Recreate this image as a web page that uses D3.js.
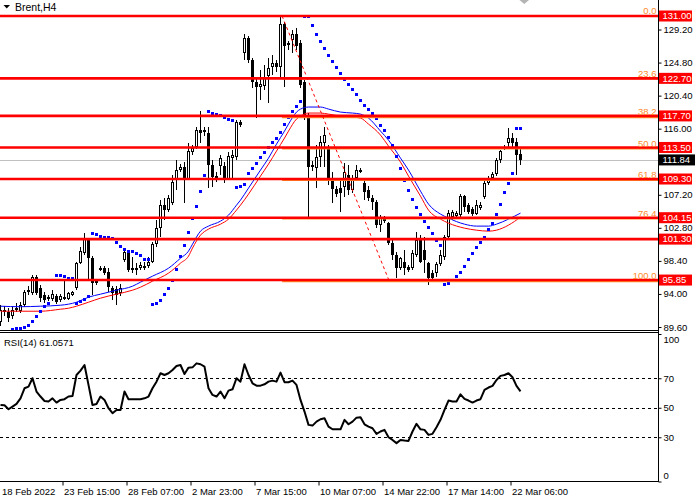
<!DOCTYPE html>
<html><head><meta charset="utf-8">
<script src="https://cdn.jsdelivr.net/npm/d3@7"></script>
<style>
html,body{margin:0;padding:0;background:#fff;}
svg{display:block;}
text{font-family:"Liberation Sans",Arial,sans-serif;}
</style></head><body>
<svg id="c" width="700" height="500"></svg>
<script>
// ---------- DATA ----------
const symbolTitle = "Brent,H4";
const barOpen = [90.24,91.84,91.57,91.04,91.97,91.70,92.50,94.24,94.10,96.23,
94.77,93.84,93.57,93.30,93.70,93.17,93.30,93.30,93.84,94.77,
98.10,99.43,101.16,98.76,95.43,97.17,97.43,96.90,94.77,94.64,
94.10,98.50,99.43,97.43,97.43,97.43,97.70,97.70,98.23,100.63,
102.76,105.82,105.16,106.09,109.15,110.49,110.89,109.29,112.88,113.55,
115.81,115.81,115.41,111.15,109.69,111.02,111.02,109.29,112.08,112.22,
116.88,126.07,128.07,125.14,122.21,121.54,121.67,123.01,124.21,124.74,
124.21,129.93,127.14,127.80,128.60,127.40,122.21,117.81,111.15,110.75,
112.22,114.08,113.42,109.02,107.96,108.09,108.22,109.82,107.82,109.42,
110.35,108.75,107.82,106.76,106.22,103.16,103.83,103.43,100.76,99.16,
97.43,98.23,97.57,97.43,99.16,101.16,99.83,98.10,96.77,96.77,
97.97,98.90,101.56,104.23,104.36,104.49,107.02,105.82,105.29,104.63,
105.42,106.89,108.75,109.42,109.95,111.82,113.42,114.08,114.75,114.22,
112.62];
const barHigh = [92.50,92.37,92.10,92.37,92.77,92.90,94.50,95.03,96.50,96.50,
95.17,94.24,93.84,94.50,93.97,93.97,95.83,94.24,94.37,98.23,
100.23,102.09,101.43,99.03,95.97,97.70,97.70,97.43,95.03,95.03,
95.30,99.83,99.70,98.90,98.10,98.23,98.23,98.90,100.90,103.83,
106.49,106.76,107.16,109.82,111.82,111.29,111.55,114.08,113.82,116.21,
118.34,116.21,116.21,111.82,110.22,112.48,111.55,112.88,113.15,117.15,
117.15,128.60,128.33,125.40,122.87,123.81,124.47,125.40,125.80,125.14,
131.00,130.20,127.67,129.13,129.40,127.80,122.47,118.08,111.68,113.82,
115.01,116.21,113.82,110.22,108.35,109.15,111.42,111.15,109.82,111.15,
110.75,109.42,108.35,107.16,106.49,104.49,104.36,103.56,101.16,99.56,
98.90,99.83,97.83,99.83,102.23,101.83,101.56,98.23,97.17,98.23,
99.83,101.83,105.16,105.16,105.03,107.29,107.16,106.09,105.56,106.49,
106.22,109.15,109.69,110.22,112.08,113.15,113.82,116.08,115.41,114.75,
113.28];
const barLow = [89.71,91.04,90.24,90.64,91.57,91.44,92.24,93.84,93.84,93.84,
92.90,92.77,93.04,93.04,92.64,92.90,93.17,93.17,93.70,94.50,
97.97,99.16,95.83,93.84,95.17,97.03,96.50,94.24,93.17,92.50,
93.70,98.23,96.90,96.77,96.50,97.17,97.17,97.43,98.10,100.23,
101.56,103.83,104.89,105.82,107.82,110.22,106.09,109.15,112.48,113.28,
114.08,115.01,108.09,108.22,108.89,109.82,108.75,109.15,109.42,111.82,
116.21,125.14,124.74,121.41,117.41,119.81,121.14,119.41,123.14,123.54,
122.87,121.54,126.47,126.07,126.47,121.41,117.15,104.23,110.35,108.09,
110.89,110.89,108.49,106.09,106.89,104.89,106.89,107.16,107.42,109.15,
110.09,106.49,106.36,105.16,102.76,102.23,103.43,100.50,98.50,96.10,
97.17,96.50,96.90,97.17,98.90,98.10,96.77,95.17,95.83,96.23,
97.70,98.50,101.16,103.83,104.09,104.23,104.89,104.63,104.36,104.49,
105.16,106.62,108.49,109.15,109.69,111.42,113.15,113.55,113.55,109.82,
111.15];
const barClose = [91.84,91.57,90.77,91.84,92.10,92.50,94.24,94.50,96.23,94.10,
93.44,93.17,93.30,93.97,92.90,93.70,93.57,94.10,94.24,98.10,
99.70,101.30,98.76,95.43,95.70,97.43,96.77,94.90,94.10,93.84,
94.77,99.56,97.17,97.17,97.17,97.83,97.43,98.23,100.63,102.76,
105.82,105.16,106.76,108.89,110.49,110.89,109.29,113.02,113.42,115.81,
115.41,115.55,111.15,109.55,109.29,112.08,109.29,112.35,112.48,116.88,
116.48,128.07,125.14,122.21,121.54,121.94,122.74,124.07,124.74,124.21,
129.93,127.00,127.40,128.60,127.00,121.81,117.55,110.89,110.89,112.22,
114.22,115.15,109.15,107.96,107.29,107.42,110.22,107.82,109.42,110.49,
110.49,107.56,106.76,106.22,103.16,104.09,103.96,100.76,99.16,97.43,
98.76,97.43,97.17,99.43,101.16,98.23,98.50,96.10,96.10,97.97,
99.16,101.56,104.76,104.89,104.76,107.02,105.56,104.89,104.63,105.82,
105.82,108.75,109.42,109.95,111.82,113.02,113.55,114.75,114.08,112.48,
111.84];
const sarValues = [null,null,null,89.31,89.35,89.44,89.57,89.84,90.37,91.04,
91.70,92.37,92.77,null,96.50,96.50,96.37,96.10,96.10,92.77,
93.04,93.30,93.70,102.09,101.96,101.70,101.56,101.56,101.43,100.90,
100.36,99.96,99.70,99.70,99.43,99.16,98.63,98.63,92.64,92.77,
93.17,93.97,94.77,95.83,97.30,99.03,100.50,102.23,104.09,105.69,
107.69,109.82,118.34,118.08,117.94,117.81,117.55,117.28,117.15,108.22,
108.35,108.62,110.09,110.75,111.42,112.22,112.88,113.55,114.22,114.75,
115.55,116.61,117.55,118.34,119.01,119.68,131.00,130.87,129.67,128.60,
127.67,126.74,125.80,125.00,124.21,123.41,122.61,121.94,121.27,120.61,
119.81,119.14,118.61,118.08,117.41,116.48,115.81,114.88,113.82,112.35,
110.75,109.15,107.82,106.62,105.56,104.63,103.69,102.89,102.09,101.16,
100.50,95.30,95.43,95.83,96.37,96.90,97.70,98.63,99.43,100.23,
100.90,101.56,102.63,103.43,104.63,105.96,107.56,108.75,110.09,116.08,
116.08];
const rsiValues = [51.9,51.7,49.0,50.8,52.6,56.4,63.2,64.3,70.0,61.0,
57.6,54.6,54.2,56.4,53.5,55.3,55.8,57.6,58.0,72.2,
75.2,79.0,65.5,51.9,52.6,57.6,55.3,49.7,46.3,48.5,
48.5,61.0,55.8,55.8,55.8,55.8,56.4,57.6,63.2,67.7,
73.4,72.2,73.4,75.6,78.3,79.0,72.9,77.2,77.4,80.1,
79.5,77.9,63.2,58.7,57.6,61.0,56.4,61.6,62.5,70.0,
67.7,79.5,72.2,66.6,65.0,65.0,65.9,67.7,68.4,67.7,
73.8,67.3,67.3,68.4,65.5,55.3,47.4,38.4,37.9,40.6,
42.2,42.9,37.2,35.4,35.4,35.4,41.8,38.8,40.6,43.3,
43.6,38.8,37.2,36.1,32.3,33.9,35.0,30.0,28.2,26.0,
28.2,27.8,27.5,33.9,39.1,35.4,35.0,31.6,32.3,36.8,
41.8,48.5,54.9,54.2,54.2,59.1,56.0,54.9,53.5,54.9,
55.8,62.1,63.7,64.8,68.8,71.6,72.2,73.4,70.7,64.8,
61.0571];
const maBars = [0,5,10,15,17,19,22,25,29,33,35,38,42,45,47,48,50,52,55,57,59,60,62,65,67,69,71,72,74,75,77,80,82,85,88,90,92,95,97,100,102,105,107,110,112,116,119,122,124,127,130];
const maBlue = [92.37,92.30,92.37,92.50,92.64,92.90,93.57,93.97,94.50,95.03,95.57,96.37,97.43,98.76,99.70,100.63,102.36,103.03,103.69,104.49,105.82,106.49,108.09,110.49,112.08,113.95,115.68,116.61,118.21,118.61,118.88,118.88,118.61,118.21,118.08,117.94,117.41,115.68,114.48,112.08,110.49,107.69,105.96,104.63,104.09,103.29,103.03,103.03,103.29,103.96,104.76];
const maRed = [91.70,91.70,91.70,91.97,92.10,92.37,92.90,93.44,93.97,94.50,94.90,95.70,96.77,98.10,99.03,100.10,101.83,102.63,103.29,103.96,105.16,105.82,107.29,109.69,111.29,113.02,114.75,115.68,117.28,117.68,118.08,118.08,117.94,117.68,117.55,117.41,116.61,115.15,113.68,111.55,109.69,107.02,105.16,103.96,103.43,102.76,102.49,102.36,102.49,103.16,104.23];
const levelPrices = [131.00,122.70,117.70,113.50,109.30,104.15,101.30,95.85];
const fibRatios = [0,23.6,38.2,50.0,61.8,76.4,100.0];
const fibLabels = ["0.0","23.6","38.2","50.0","61.8","76.4","100.0"];
const fibAnchorBars = [70.4,97.2];
const fibAnchorPrices = [131.00,95.70];
const priceTicks = [89.60,94.00,98.40,102.80,107.20,116.00,120.40,124.80,129.20];
const bidPrice = 111.84;
const rsiLevels = [30,50,70];
const rsiTicks = [0,30,50,70,100];
const xTickBars = [0,16,32,48,64,80,96,112,128];
const xTickLabels = ["18 Feb 2022","23 Feb 15:00","28 Feb 07:00","2 Mar 23:00","7 Mar 15:00","10 Mar 07:00","14 Mar 22:00","17 Mar 14:00","22 Mar 06:00"];

// ---------- LAYOUT ----------
const axisX = 658.5, mainBottom = 330, rsiTop = 333, rsiBottom = 481.5;
const FS = "9.5px";
const svg = d3.select('#c');
svg.append('rect').attr('width',700).attr('height',500).attr('fill','#fff');

const x = d3.scaleLinear().domain([0,130]).range([0.5,520.5]);
const y = d3.scaleLinear().domain([89.6,131]).range([327,16]);
const ry = d3.scaleLinear().domain([0,100]).range([rsiBottom,334]);

const defs = svg.append('defs');
defs.append('clipPath').attr('id','mc').append('rect').attr('x',0).attr('y',0).attr('width',658).attr('height',mainBottom);
defs.append('clipPath').attr('id','rc').append('rect').attr('x',0).attr('y',rsiTop).attr('width',658).attr('height',rsiBottom-rsiTop);

const main = svg.append('g').attr('clip-path','url(#mc)');

// bid line
const by = Math.round(y(bidPrice))+0.5;
main.append('line').attr('x1',0).attr('x2',658).attr('y1',by).attr('y2',by).attr('stroke','#c0c0c0');

// candles
const idx = d3.range(barClose.length);
const cg = main.append('g').attr('shape-rendering','crispEdges');
idx.forEach(i=>{
  const cx = x(i);
  const o=y(barOpen[i]), c=y(barClose[i]), h=y(barHigh[i]), l=y(barLow[i]);
  cg.append('line').attr('x1',cx).attr('x2',cx).attr('y1',Math.round(h)).attr('y2',Math.round(l)).attr('stroke','#000');
  const top=Math.round(Math.min(o,c)), bot=Math.round(Math.max(o,c));
  if (barClose[i] >= barOpen[i]) {
    cg.append('rect').attr('x',cx-1).attr('y',top+0.5).attr('width',2).attr('height',Math.max(bot-top-1,1))
      .attr('fill','#fff').attr('stroke','#000');
  } else {
    cg.append('rect').attr('x',cx-1.5).attr('y',top).attr('width',3).attr('height',Math.max(bot-top,1)).attr('fill','#000');
  }
});

// moving averages
const maLine = vals => d3.line().x((d,i)=>x(maBars[i])).y(d=>y(d)).curve(d3.curveMonotoneX)(vals);
main.append('path').attr('d',maLine(maRed)).attr('fill','none').attr('stroke','#ff0000').attr('stroke-width',1);
main.append('path').attr('d',maLine(maBlue)).attr('fill','none').attr('stroke','#0000ff').attr('stroke-width',1);

// parabolic SAR
main.append('g').attr('shape-rendering','crispEdges').selectAll('rect')
  .data(idx.filter(i=>sarValues[i]!==null)).join('rect')
  .attr('x',i=>x(i)-1.5).attr('y',i=>Math.round(y(sarValues[i])-1.5)).attr('width',3).attr('height',3)
  .attr('fill','#0000ff');

// fibonacci levels
const fibHi = fibAnchorPrices[0], fibLo = fibAnchorPrices[1];
const fibX0 = x(fibAnchorBars[0]);
const fibColor = '#ff8a2a';
fibRatios.forEach((r,k)=>{
  const yy = y(fibHi - r/100*(fibHi-fibLo));
  main.append('line').attr('x1',fibX0).attr('x2',658).attr('y1',yy).attr('y2',yy)
    .attr('stroke',fibColor).attr('stroke-width',2);
  svg.append('text').attr('x',656.5).attr('y',yy-2).attr('text-anchor','end')
    .attr('font-size',FS).attr('fill',fibColor).text(fibLabels[k]);
});
main.append('line')
  .attr('x1',x(fibAnchorBars[0])).attr('y1',y(fibAnchorPrices[0]))
  .attr('x2',x(fibAnchorBars[1])).attr('y2',y(fibAnchorPrices[1]))
  .attr('stroke','#ff0000').attr('stroke-width',1).attr('stroke-dasharray','3,3');

// horizontal red levels
levelPrices.forEach(p=>{
  const yy = y(p);
  main.append('line').attr('x1',0).attr('x2',658).attr('y1',yy).attr('y2',yy)
    .attr('stroke','#ff0000').attr('stroke-width',2.6);
});

// ---------- RSI panel ----------
const rp = svg.append('g').attr('clip-path','url(#rc)');
rsiLevels.forEach(v=>{
  const yy = Math.round(ry(v))+0.5;
  rp.append('line').attr('x1',0).attr('x2',658).attr('y1',yy).attr('y2',yy)
    .attr('stroke','#000').attr('stroke-dasharray','3,3').attr('shape-rendering','crispEdges');
});
rp.append('path').attr('d',d3.line().x((d,i)=>x(i)).y(d=>ry(d))(rsiValues))
  .attr('fill','none').attr('stroke','#000').attr('stroke-width',2).attr('stroke-linejoin','round');
svg.append('text').attr('x',4).attr('y',346).attr('font-size',FS).attr('fill','#000')
  .text('RSI(14) ' + d3.format('.4f')(rsiValues[rsiValues.length-1]));

// ---------- frames ----------
const fr = svg.append('g').attr('stroke','#000').attr('shape-rendering','crispEdges');
fr.append('line').attr('x1',0).attr('x2',axisX).attr('y1',330.5).attr('y2',330.5);
fr.append('line').attr('x1',0).attr('x2',axisX).attr('y1',332.5).attr('y2',332.5);
fr.append('line').attr('x1',0).attr('x2',axisX).attr('y1',481.5).attr('y2',481.5);
fr.append('line').attr('x1',axisX).attr('x2',axisX).attr('y1',0).attr('y2',482);

// ---------- price axis ----------
const pa = svg.append('g').attr('transform',`translate(${axisX},0)`)
  .call(d3.axisRight(y).tickValues(priceTicks).tickFormat(d3.format('.2f')).tickSize(3).tickPadding(2));
pa.select('.domain').remove();
pa.selectAll('text').attr('font-size',FS).attr('font-family','"Liberation Sans",Arial,sans-serif').attr('fill','#000');
pa.selectAll('line').attr('stroke','#000');

levelPrices.forEach(p=>{
  const yy = y(p);
  svg.append('rect').attr('x',659).attr('y',yy-5.5).attr('width',33).attr('height',11).attr('fill','#ff0000');
  svg.append('text').attr('x',662.5).attr('y',yy).attr('dy','0.35em').attr('font-size',FS).attr('fill','#fff')
    .text(d3.format('.2f')(p));
});
svg.append('rect').attr('x',659).attr('y',y(bidPrice)-5.5).attr('width',36).attr('height',11).attr('fill','#000');
svg.append('text').attr('x',662.5).attr('y',y(bidPrice)).attr('dy','0.35em').attr('font-size',FS).attr('fill','#fff')
  .text(d3.format('.2f')(bidPrice));

// ---------- RSI axis ----------
const ra = svg.append('g').attr('transform',`translate(${axisX},0)`)
  .call(d3.axisRight(ry).tickValues(rsiTicks).tickFormat(d3.format('d')).tickSize(3).tickPadding(2));
ra.select('.domain').remove();
ra.selectAll('line').attr('stroke','#000');
ra.selectAll('text').attr('font-size',FS).attr('font-family','"Liberation Sans",Arial,sans-serif').attr('fill','#000')
  .attr('y',d=> d===100 ? 5.3 : (d===0 ? -5.8 : 0));

// ---------- time axis ----------
const ta = svg.append('g').attr('transform',`translate(-2,${rsiBottom})`)
  .call(d3.axisBottom(x).tickValues(xTickBars).tickFormat((d,i)=>xTickLabels[i]).tickSize(4).tickPadding(3));
ta.select('.domain').remove();
ta.selectAll('line').attr('stroke','#000');
ta.selectAll('text').attr('font-size',FS).attr('font-family','"Liberation Sans",Arial,sans-serif').attr('fill','#000')
  .attr('text-anchor','start').attr('x',(d,i)=> i===0 ? 3 : 1);

// ---------- title & marker ----------
svg.append('path').attr('d','M3.5,5 L10,5 L6.75,8.5 Z').attr('fill','#000');
svg.append('text').attr('x',15).attr('y',11).attr('font-size','10.5px').attr('fill','#000').text(symbolTitle);
svg.append('path').attr('d','M519.5,0 L529,0 L524.25,4 Z').attr('fill','#b4b4b4');
</script>
</body></html>
